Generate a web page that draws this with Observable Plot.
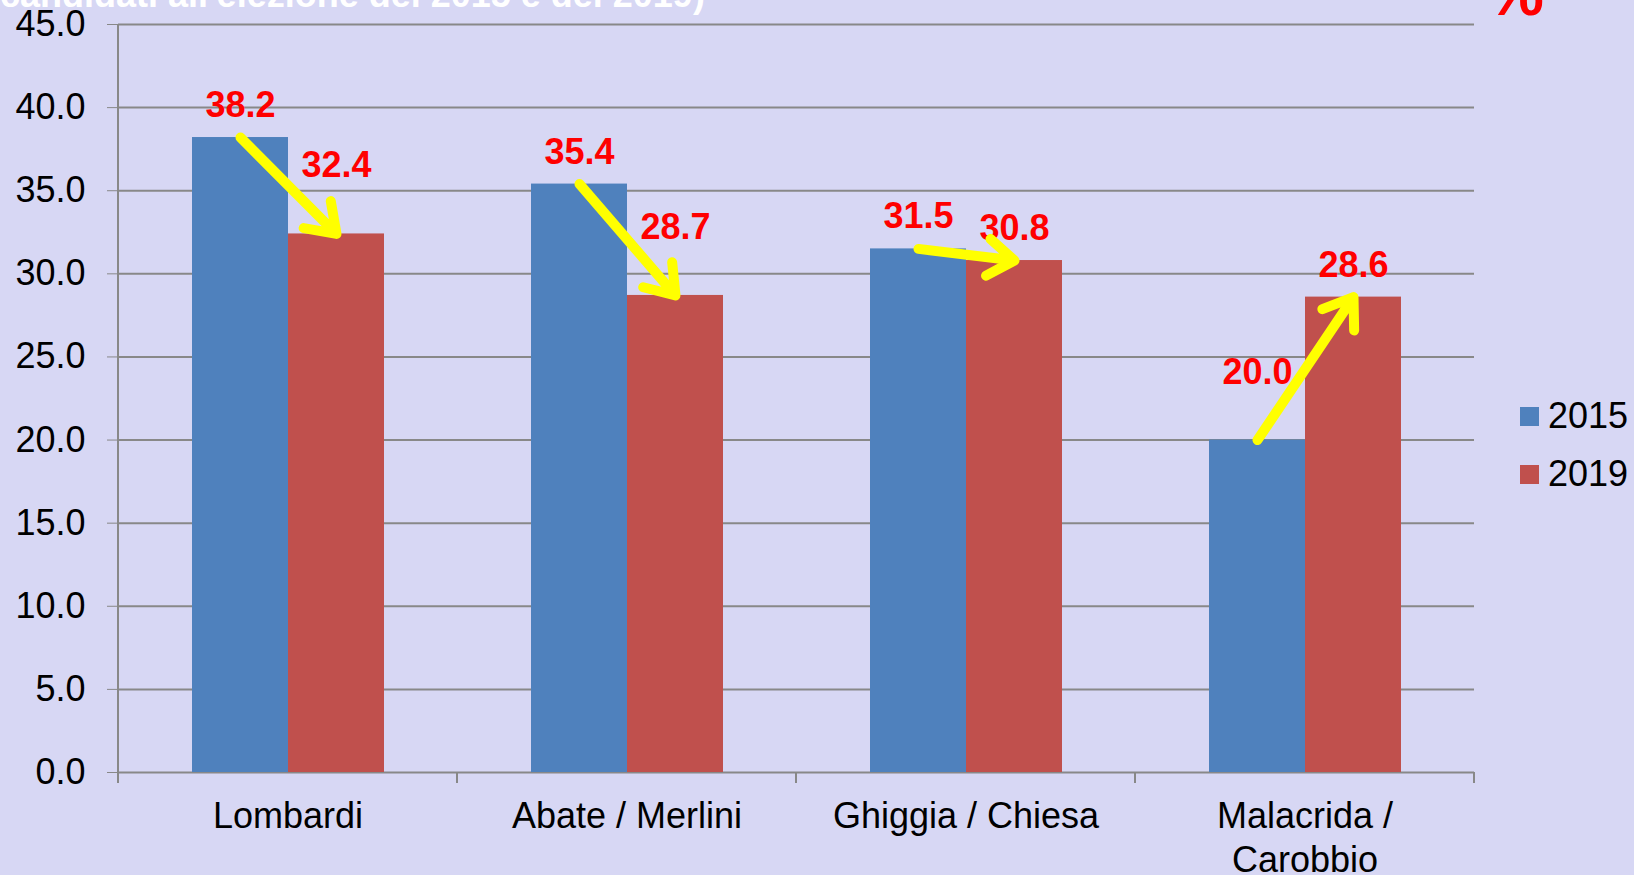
<!DOCTYPE html>
<html><head><meta charset="utf-8">
<script src="https://cdn.jsdelivr.net/npm/d3@7"></script>
<script src="https://cdn.jsdelivr.net/npm/@observablehq/plot@0.6"></script>
<style>
html,body{margin:0;padding:0;background:#d7d7f4;width:1634px;height:875px;overflow:hidden;font-family:"Liberation Sans",Arial,sans-serif;}
#wrap{position:relative;width:1634px;height:875px;}
#chart{position:absolute;left:0;top:0;}
#title{position:absolute;left:0;top:-23px;font-size:36px;font-weight:bold;color:#fff;line-height:36px;white-space:nowrap;}
#pct{position:absolute;left:1487px;top:-39px;font-size:64px;font-weight:bold;color:#f00;line-height:64px;}
#legend{position:absolute;left:1520px;top:387px;font-size:36px;color:#000;}
.item{display:flex;align-items:center;height:58px;}
.sw{width:19px;height:19px;margin-right:9px;}
</style></head><body>
<div id="wrap"><div id="chart"></div><div id="title"></div><div id="pct">%</div><div id="legend"></div></div>
<script>
const titleText = "candidati all'elezione del 2015 e del 2019)";
const categories = ["Lombardi", "Abate / Merlini", "Ghiggia / Chiesa", "Malacrida / Carobbio"];
const categoryLabels = ["Lombardi", "Abate / Merlini", "Ghiggia / Chiesa", "Malacrida /\nCarobbio"];
const years = ["2015", "2019"];
const values2015 = [38.2, 35.4, 31.5, 20.0];
const values2019 = [32.4, 28.7, 30.8, 28.6];
const colors = ["#4f81bd", "#c0504d"];
const yTicks = [0, 5, 10, 15, 20, 25, 30, 35, 40, 45];
// labels drawn higher above their bar (category|year)
const raisedLabels = ["Lombardi|2019", "Abate / Merlini|2019", "Malacrida / Carobbio|2015"];

document.getElementById("title").textContent = titleText;

const series = [values2015, values2019];
const rows = categories.flatMap((c, i) => years.map((yr, j) => ({cat: c, year: yr, value: series[j][i]})));
const arrowRows = categories.map((c, i) => ({cat: c, v1: values2015[i], v2: values2019[i]}));
const raised = new Set(raisedLabels);
const isRaised = d => raised.has(d.cat + "|" + d.year);
const labelOf = new Map(categories.map((c, i) => [c, categoryLabels[i]]));
const FONT = '"Liberation Sans", Arial, sans-serif';

const plot = Plot.plot({
  width: 1634, height: 875,
  marginLeft: 116, marginRight: 159, marginTop: 24, marginBottom: 103,
  style: {background: "transparent", fontFamily: FONT, fontSize: "36px", color: "#000", overflow: "visible"},
  fx: {domain: categories, padding: 0, label: null},
  x: {domain: years, paddingInner: 0, paddingOuter: 0.75, axis: null},
  y: {domain: [0, 45], label: null},
  color: {domain: years, range: colors},
  marks: [
    Plot.ruleY(yTicks, {stroke: "#888888", strokeWidth: 2}),
    Plot.barY(rows, {fx: "cat", x: "year", y: "value", fill: "year"}),
    Plot.axisY({ticks: yTicks, tickSize: 11, tickPadding: 22, tickFormat: d => d.toFixed(1), stroke: "#888888", fill: "#000", fontSize: 36, label: null}),
    Plot.axisFx({anchor: "bottom", tickSize: 0, tickPadding: 24, tickFormat: d => labelOf.get(d), fontSize: 36, lineHeight: 1.22, fill: "#000", label: null}),
    Plot.text(rows.filter(d => !isRaised(d)), {fx: "cat", x: "year", y: "value", text: d => d.value.toFixed(1), dy: -32, fill: "#ff0000", fontSize: 36, fontWeight: "bold"}),
    Plot.text(rows.filter(isRaised), {fx: "cat", x: "year", y: "value", text: d => d.value.toFixed(1), dy: -68, fill: "#ff0000", fontSize: 36, fontWeight: "bold"}),
    Plot.arrow(arrowRows, {fx: "cat", x1: () => years[0], x2: () => years[1], y1: "v1", y2: "v2", stroke: "#ffff00", strokeWidth: 10, headLength: 5, headAngle: 70})
  ]
});

// axis line and category boundary ticks from the plot's own scales
const fxs = plot.scale("fx");
const ys = plot.scale("y");
const y0 = ys.apply(0), yTop = ys.apply(45);
const bounds = categories.map(c => fxs.apply(c)).concat([fxs.apply(categories[categories.length - 1]) + fxs.step]);
const g = d3.select(plot).append("g").attr("stroke", "#888888").attr("stroke-width", 2);
g.append("line").attr("x1", bounds[0]).attr("x2", bounds[0]).attr("y1", yTop).attr("y2", y0 + 11);
bounds.forEach(b => g.append("line").attr("x1", b).attr("x2", b).attr("y1", y0).attr("y2", y0 + 11));

document.getElementById("chart").appendChild(plot);

const legend = d3.select("#legend");
years.forEach((yr, i) => {
  const it = legend.append("div").attr("class", "item");
  it.append("div").attr("class", "sw").style("background", colors[i]);
  it.append("span").text(yr);
});
</script>
</body></html>
